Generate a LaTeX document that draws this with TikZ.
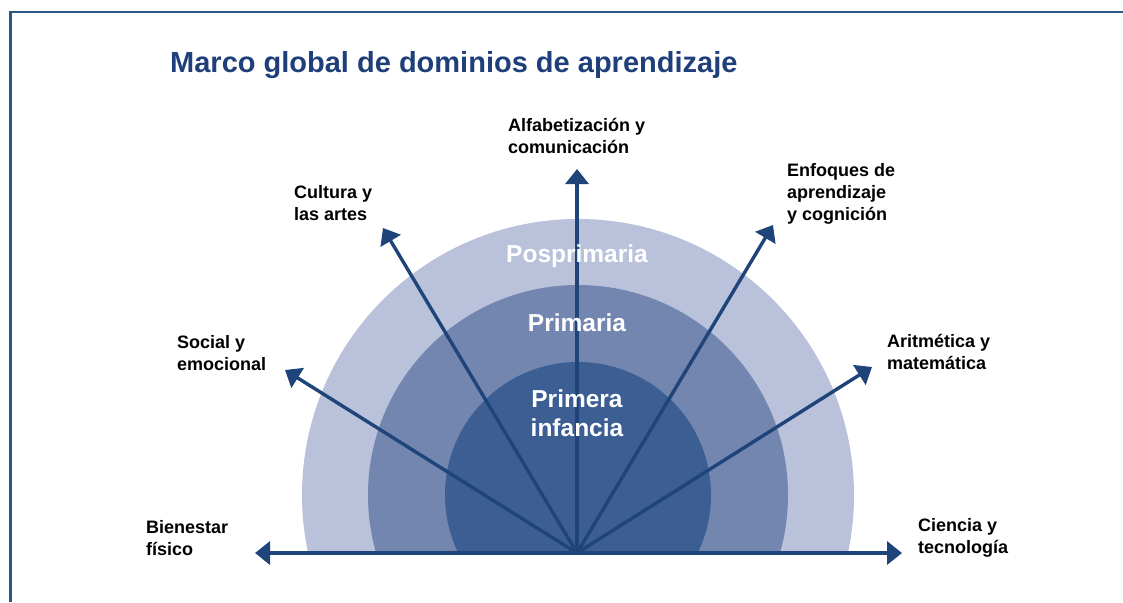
\documentclass[tikz,border=0pt]{standalone}
\usepackage{fontspec}
\setmainfont{Liberation Sans}
\usetikzlibrary{arrows.meta}
\definecolor{outerc}{HTML}{B9C1DB}
\definecolor{midc}{HTML}{7286B0}
\definecolor{innerc}{HTML}{3D5E93}
\definecolor{arrowc}{HTML}{1F4479}
\definecolor{titlec}{HTML}{1F3F7B}
\definecolor{framec}{HTML}{2F5486}
\tikzset{
  domarrow/.style={draw=arrowc, line width=3.4pt, -{Triangle[length=15pt,width=23pt]}},
  domlabel/.style={anchor=north west, inner sep=0pt, align=left, text=black,
    font=\fontsize{18}{22}\selectfont\bfseries},
  stagelabel/.style={inner sep=0pt, align=center, text=white,
    font=\fontsize{24.5}{29}\selectfont\bfseries},
}
\begin{document}
\begin{tikzpicture}[x=1pt,y=-1pt]
\useasboundingbox (0,0) rectangle (1123,602);
% frame
\draw[framec, line width=2.2pt] (10.5,602) -- (10.5,12) -- (1123,12);
% title
\node[anchor=north west, inner sep=0pt, text=titlec, font=\fontsize{29}{34}\selectfont\bfseries] (title) at (170,51) {Marco global de dominios de aprendizaje};
% stages
\begin{scope}
\clip (0,0) rectangle (1123,553);
\fill[outerc] (578,495) circle (276pt);
\fill[midc] (578,495) circle (210pt);
\fill[innerc] (578,495) circle (133pt);
\end{scope}
% origin and tips
\coordinate (O) at (577,553);
\coordinate (tL) at (255,553);
\coordinate (tR) at (902,553);
\coordinate (tU) at (577,169);
\coordinate (tCul) at (383,228);
\coordinate (tEnf) at (773,225);
\coordinate (tSoc) at (285,370);
\coordinate (tAri) at (872,367);
\draw[domarrow] (O) -- (tL);
\draw[domarrow] (O) -- (tR);
\draw[domarrow] (O) -- (tU);
\draw[domarrow] (O) -- (tCul);
\draw[domarrow] (O) -- (tEnf);
\draw[domarrow] (O) -- (tSoc);
\draw[domarrow] (O) -- (tAri);
% stage labels
\node[stagelabel, anchor=base] (pos) at (577,262) {Posprimaria};
\node[stagelabel, anchor=base] (pri) at (577,331) {Primaria};
\node[stagelabel, anchor=north] (inf) at (577,390) {Primera\\infancia};
% domain labels
\node[domlabel] (alf) at (508,118) {Alfabetización y\\comunicación};
\node[domlabel] (cul) at (294,185) {Cultura y\\las artes};
\node[domlabel] (enf) at (787,163) {Enfoques de\\aprendizaje\\y cognición};
\node[domlabel] (soc) at (177,335) {Social y\\emocional};
\node[domlabel] (ari) at (887,334) {Aritmética y\\matemática};
\node[domlabel] (bie) at (146,520) {Bienestar\\físico};
\node[domlabel] (cie) at (918,518) {Ciencia y\\tecnología};
\end{tikzpicture}
\end{document}
